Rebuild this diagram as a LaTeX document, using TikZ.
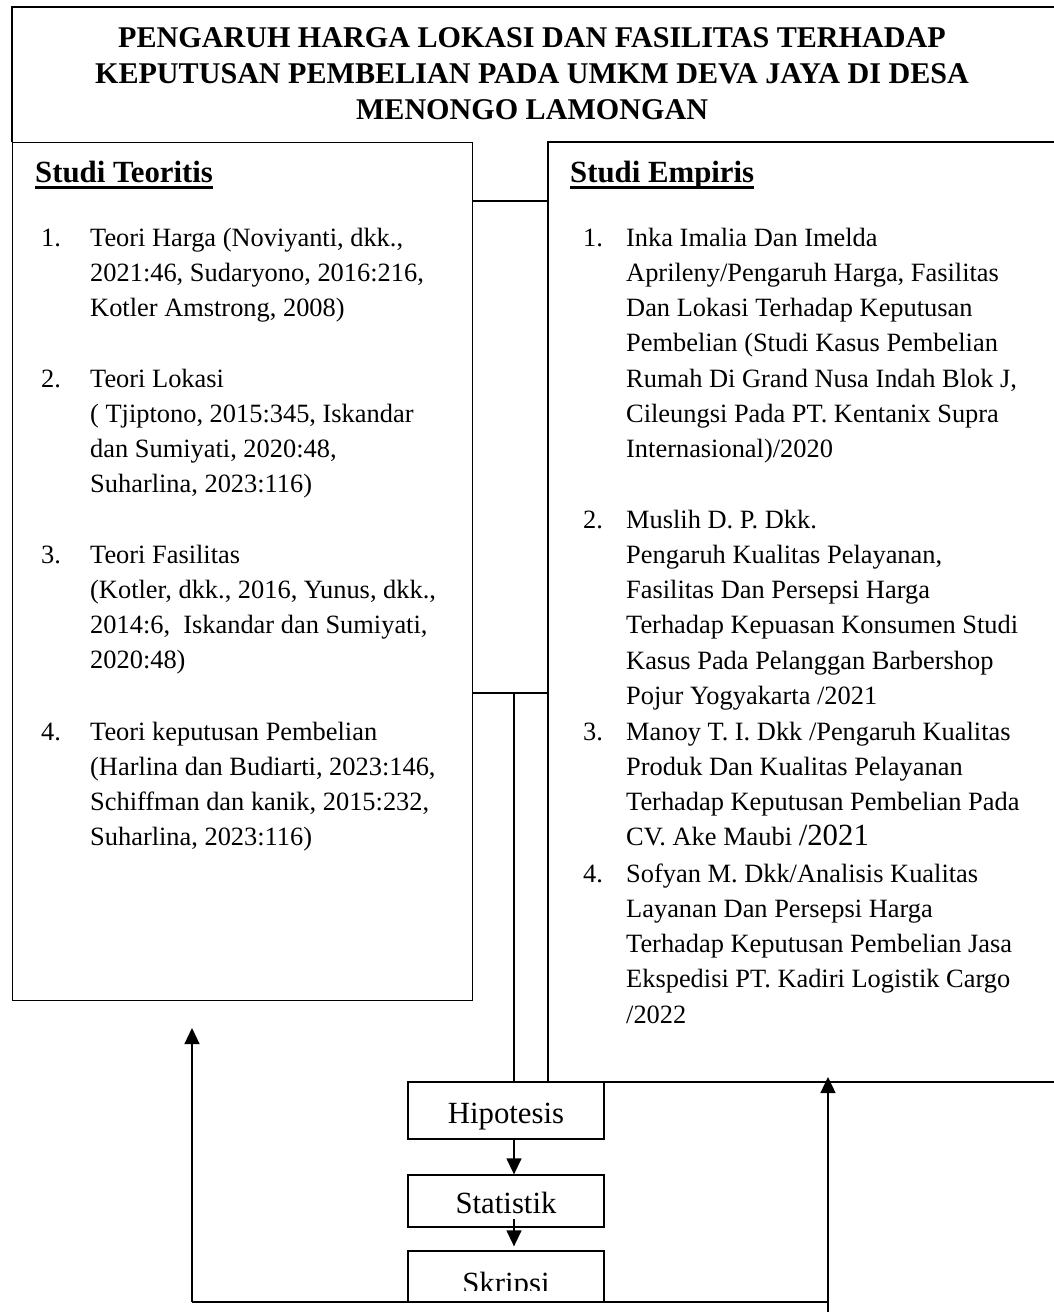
\documentclass[tikz,border=0pt]{standalone}
\usepackage{fontspec}
\setmainfont{Liberation Serif}
\usetikzlibrary{arrows.meta}
\newcommand\bodyfont{\fontsize{26.4}{35.3}\selectfont}
\newcommand\bigfont{\fontsize{30.8}{37}\selectfont}
\newcommand\ttlfont{\fontsize{30.1}{37}\selectfont}
\tikzset{
  ln/.style={line width=1.3pt},
  arr/.style={ln,-{Triangle[length=16pt,width=15pt]}},
  txt/.style={anchor=base west,inner sep=0pt,font=\bodyfont},
  ttl/.style={anchor=base,inner sep=0pt,font=\ttlfont\bfseries},
  flowbox/.style={draw,ln,minimum width=196pt,inner sep=0pt,font=\bigfont,text height=26pt,text depth=1pt}
}
\begin{document}
\begin{tikzpicture}[x=1pt,y=-1pt]
\useasboundingbox (0,0) rectangle (1054,1312);
% title
\coordinate (tl) at (12,142);
\coordinate (tt) at (12,7);
\coordinate (tr) at (1060,7);
\draw[ln] (tl) -- (tt) -- (tr);
\node[ttl] (t1) at (532,47) {PENGARUH HARGA LOKASI DAN FASILITAS TERHADAP};
\node[ttl] (t2) at (532,83) {KEPUTUSAN PEMBELIAN PADA UMKM DEVA JAYA DI DESA};
\node[ttl] (t3) at (532,119) {MENONGO LAMONGAN};
% Studi Teoritis box
\node[draw,ln,anchor=north west,minimum width=460pt,minimum height=858pt,inner sep=0pt] (teo) at (12,142) {};
\node[txt,font=\bigfont\bfseries] (hT) at (35,182) {Studi Teoritis};
\draw[line width=2.5pt] ([yshift=-5.5pt]hT.base west) -- ([yshift=-5.5pt]hT.base east);
% Studi Empiris box (open to the right)
\coordinate (eb) at (548,1082);
\coordinate (etl) at (548,142);
\coordinate (etr) at (1060,142);
\coordinate (ebl) at (604,1082);
\coordinate (ebr) at (1060,1082);
\draw[ln] (eb) -- (etl) -- (etr);
\draw[ln] (ebl) -- (ebr);
\node[txt,font=\bigfont\bfseries] (hE) at (570,182) {Studi Empiris};
\draw[line width=2.5pt] ([yshift=-5.5pt]hE.base west) -- ([yshift=-5.5pt]hE.base east);
% left items
\node[txt] (n1) at (41,246) {1.};
\foreach \t [count=\i from 0] in {{Teori Harga (Noviyanti, dkk.,},{2021:46, Sudaryono, 2016:216,},{Kotler Amstrong, 2008)}}
  \node[txt] at (90,{246+35.3*\i}) {\t};
\node[txt] (n2) at (41,387) {2.};
\foreach \t [count=\i from 0] in {{Teori Lokasi},{( Tjiptono, 2015:345, Iskandar},{dan Sumiyati, 2020:48,},{Suharlina, 2023:116)}}
  \node[txt] at (90,{387+35.3*\i}) {\t};
\node[txt] (n3) at (41,563) {3.};
\foreach \t [count=\i from 0] in {{Teori Fasilitas},{(Kotler, dkk., 2016, Yunus, dkk.,},{2014:6,\ \ Iskandar dan Sumiyati,},{2020:48)}}
  \node[txt] at (90,{563+35.3*\i}) {\t};
\node[txt] (n4) at (41,740) {4.};
\foreach \t [count=\i from 0] in {{Teori keputusan Pembelian},{(Harlina dan Budiarti, 2023:146,},{Schiffman dan kanik, 2015:232,},{Suharlina, 2023:116)}}
  \node[txt] at (90,{740+35.3*\i}) {\t};
% right items
\node[txt] (m1) at (583,246) {1.};
\foreach \t [count=\i from 0] in {{Inka Imalia Dan Imelda},{Aprileny/Pengaruh Harga, Fasilitas},{Dan Lokasi Terhadap Keputusan},{Pembelian (Studi Kasus Pembelian},{Rumah Di Grand Nusa Indah Blok J,},{Cileungsi Pada PT. Kentanix Supra},{Internasional)/2020}}
  \node[txt] at (626,{246+35.3*\i}) {\t};
\node[txt] (m2) at (583,528) {2.};
\foreach \t [count=\i from 0] in {{Muslih D. P. Dkk.},{Pengaruh Kualitas Pelayanan,},{Fasilitas Dan Persepsi Harga},{Terhadap Kepuasan Konsumen Studi},{Kasus Pada Pelanggan Barbershop},{Pojur Yogyakarta /2021}}
  \node[txt] at (626,{528+35.3*\i}) {\t};
\node[txt] (m3) at (583,740) {3.};
\foreach \t [count=\i from 0] in {{Manoy T. I. Dkk /Pengaruh Kualitas},{Produk Dan Kualitas Pelayanan},{Terhadap Keputusan Pembelian Pada},{CV. Ake Maubi {\bigfont/2021}}}
  \node[txt] at (626,{740+35.3*\i}) {\t};
\node[txt] (m4) at (583,882) {4.};
\foreach \t [count=\i from 0] in {{Sofyan M. Dkk/Analisis Kualitas},{Layanan Dan Persepsi Harga},{Terhadap Keputusan Pembelian Jasa},{Ekspedisi PT. Kadiri Logistik Cargo},{/2022}}
  \node[txt] at (626,{882+35.3*\i}) {\t};
% connectors between boxes
\coordinate (ca) at (472,201);
\coordinate (cb) at (548,201);
\draw[ln] (ca) -- (cb);
\coordinate (cc) at (472,693);
\coordinate (cd) at (548,693);
\coordinate (cm) at (514,693);
\draw[ln] (cc) -- (cd);
% flow boxes
\node[flowbox,minimum height=57pt] (hip) at (506,1110.5) {Hipotesis};
\node[flowbox,minimum height=52pt] (sta) at (506,1201) {Statistik};
\node[draw,ln,minimum width=196pt,minimum height=51pt,inner sep=0pt] (skr) at (506,1276.5) {};
\begin{scope}
  \clip (408,1251) rectangle (604,1290);
  \node[anchor=base,inner sep=0pt,font=\bigfont] (skt) at (506,1293) {Skripsi};
\end{scope}
\draw[ln] (cm) -- (cm |- hip.north);
\draw[arr] ([xshift=8pt]hip.south) -- ([xshift=8pt]sta.north);
\draw[arr] ([xshift=8pt,yshift=9pt]sta.south) -- ([xshift=8pt,yshift=4pt]skr.north);
% feedback lines
\coordinate (bl) at (192,1302);
\coordinate (br) at (828,1302);
\coordinate (bb) at (828,1315);
\coordinate (lt) at (192,1028);
\coordinate (rt) at (828,1077);
\draw[ln] (bl) -- (br);
\draw[arr] (bl) -- (lt);
\draw[arr] (bb) -- (rt);
\end{tikzpicture}
\end{document}
